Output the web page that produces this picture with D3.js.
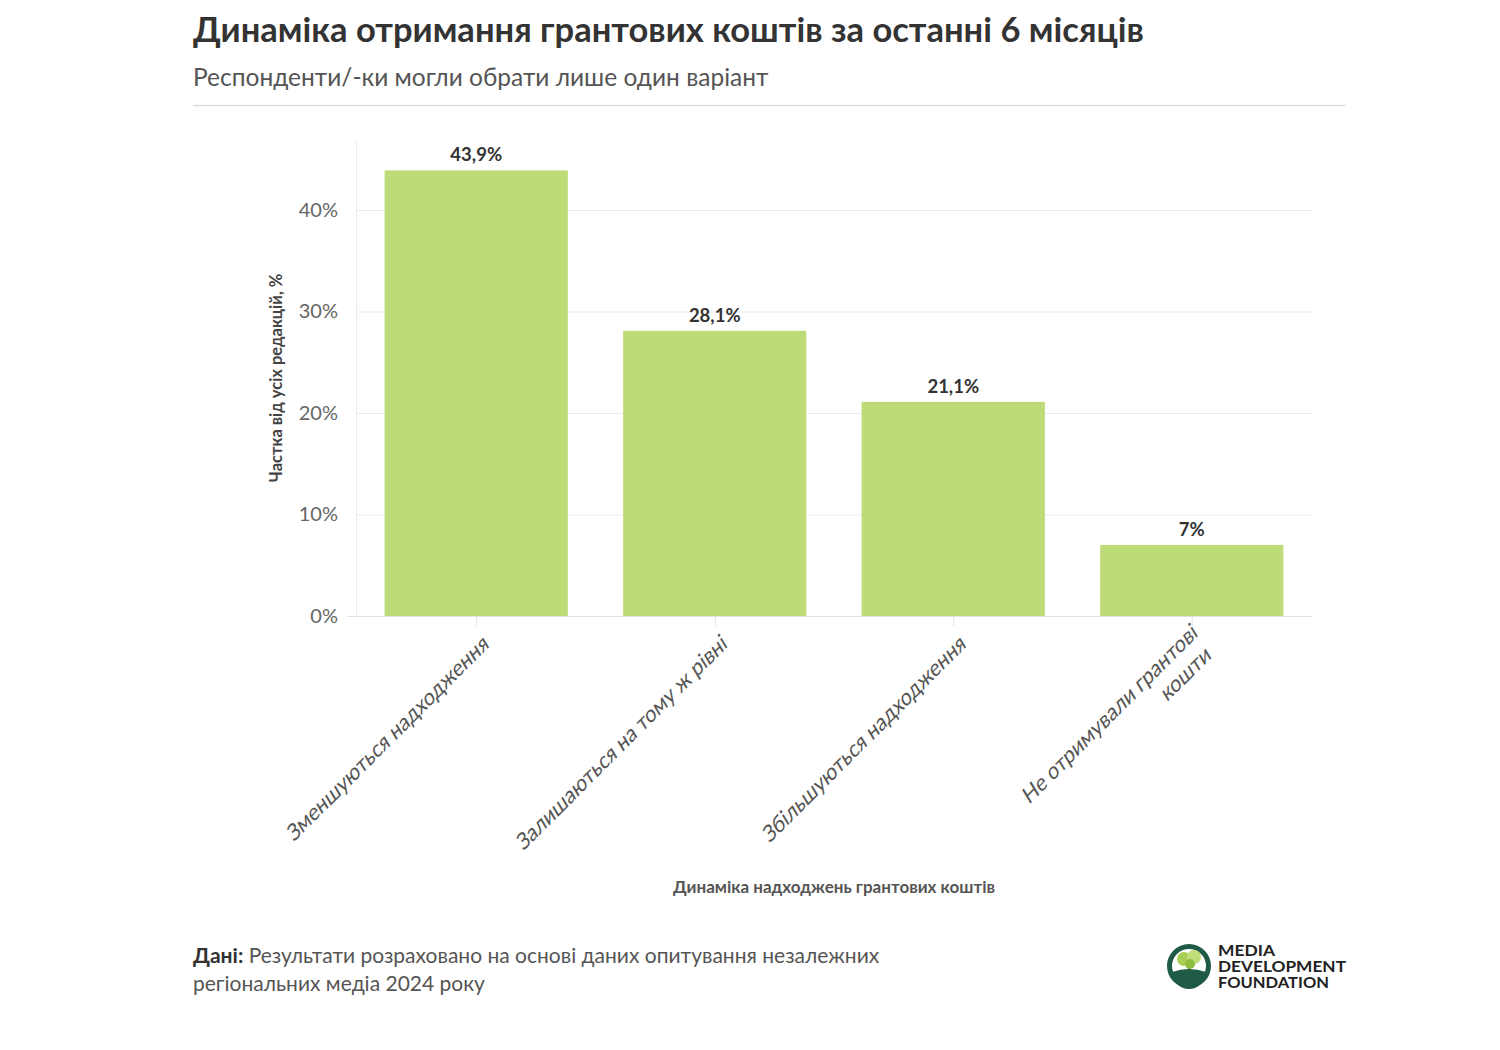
<!DOCTYPE html>
<html>
<head>
<meta charset="utf-8">
<script src="https://cdn.jsdelivr.net/npm/d3@7.9.0/dist/d3.min.js"></script>
<style>
  body { margin: 0; background: #fff; font-family: Lato, 'Noto Sans', sans-serif; }
  svg text { font-family: Lato, 'Noto Sans', sans-serif; }
</style>
</head>
<body>
<svg id="chart" width="1500" height="1050"></svg>
<script>
// chart data
const categories = [
  ['Зменшуються надходження'],
  ['Залишаються на тому ж рівні'],
  ['Збільшуються надходження'],
  ['Не отримували грантові', 'кошти'],
];
const values = [43.9, 28.1, 21.1, 7];
const valueLabels = ['43,9%', '28,1%', '21,1%', '7%'];
const yTicks = [0, 10, 20, 30, 40];

const title = 'Динаміка отримання грантових коштів за останні 6 місяців';
const subtitle = 'Респонденти/-ки могли обрати лише один варіант';
const yTitle = 'Частка від усіх редакцій, %';
const xTitle = 'Динаміка надходжень грантових коштів';

const svg = d3.select('#chart');

// header
svg.append('text')
  .attr('x', 193).attr('y', 42)
  .attr('font-size', 34.5).attr('font-weight', 700).attr('fill', '#333')
  .text(title);
svg.append('text')
  .attr('x', 193).attr('y', 86)
  .attr('font-size', 24.5).attr('fill', '#555')
  .text(subtitle);
svg.append('line')
  .attr('x1', 193).attr('x2', 1346).attr('y1', 105.5).attr('y2', 105.5)
  .attr('stroke', '#ddd').attr('stroke-width', 1.5);

// scales
const plot = { left: 356, right: 1312, top: 140, bottom: 616 };
const x = d3.scaleBand()
  .domain(d3.range(categories.length))
  .range([plot.left, plot.right])
  .paddingInner(0.232)
  .paddingOuter(0.12);
const y = d3.scaleLinear().domain([0, 40]).range([plot.bottom, 210]);

// gridlines
svg.append('g')
  .selectAll('line')
  .data(yTicks)
  .join('line')
  .attr('x1', (d) => (d === 0 ? plot.left - 9 : plot.left))
  .attr('x2', plot.right)
  .attr('y1', (d) => y(d) + 0.5)
  .attr('y2', (d) => y(d) + 0.5)
  .attr('stroke', (d) => (d === 0 ? '#e2e2e2' : '#ebebeb'));

svg.append('line')
  .attr('x1', plot.left + 0.5).attr('x2', plot.left + 0.5)
  .attr('y1', plot.top).attr('y2', plot.bottom)
  .attr('stroke', '#ebebeb');

// y axis
const yAxis = svg.append('g')
  .attr('transform', `translate(${plot.left - 15},0)`)
  .call(d3.axisLeft(y).tickValues(yTicks).tickSize(0).tickFormat((d) => d + '%'));
yAxis.select('.domain').remove();
yAxis.selectAll('text')
  .attr('font-size', 20).attr('fill', '#666')
  .attr('font-family', 'Lato, sans-serif');

// x ticks
svg.append('g')
  .selectAll('line')
  .data(d3.range(categories.length))
  .join('line')
  .attr('x1', (d) => x(d) + x.bandwidth() / 2 + 0.5)
  .attr('x2', (d) => x(d) + x.bandwidth() / 2 + 0.5)
  .attr('y1', plot.bottom)
  .attr('y2', plot.bottom + 10)
  .attr('stroke', '#e2e2e2');

// bars
svg.append('g')
  .selectAll('rect')
  .data(values)
  .join('rect')
  .attr('x', (d, i) => x(i))
  .attr('y', (d) => y(d))
  .attr('width', x.bandwidth())
  .attr('height', (d) => y(0) - y(d))
  .attr('fill', '#bddb76');

// value labels
svg.append('g')
  .selectAll('text')
  .data(values)
  .join('text')
  .attr('x', (d, i) => x(i) + x.bandwidth() / 2)
  .attr('y', (d) => y(d) - 9)
  .attr('text-anchor', 'middle')
  .attr('font-size', 18.5).attr('font-weight', 700).attr('fill', '#333')
  .text((d, i) => valueLabels[i]);

// category labels, rotated (oblique)
const catG = svg.append('g')
  .selectAll('text')
  .data(categories)
  .join('text')
  .attr('transform', (d, i) =>
    `translate(${x(i) + x.bandwidth() / 2 + 10},${plot.bottom + 24}) rotate(-45) skewX(-14)`)
  .attr('text-anchor', 'end')
  .attr('font-size', 21.5).attr('fill', '#555');
catG.each(function (lines) {
  const t = d3.select(this);
  const n = lines.length;
  lines.forEach((ln, k) => {
    t.append('tspan')
      .attr('x', 0)
      .attr('y', (k - (n - 1) / 2) * 25 + 7)
      .text(ln);
  });
});

// axis titles
svg.append('text')
  .attr('transform', `translate(282,378) rotate(-90)`)
  .attr('text-anchor', 'middle')
  .attr('font-size', 16.5).attr('font-weight', 700).attr('fill', '#444')
  .text(yTitle);
svg.append('text')
  .attr('x', 834).attr('y', 893)
  .attr('text-anchor', 'middle')
  .attr('font-size', 17).attr('font-weight', 700).attr('fill', '#555')
  .text(xTitle);

// footer
const foot = svg.append('text')
  .attr('x', 193).attr('y', 963)
  .attr('font-size', 21).attr('fill', '#555');
foot.append('tspan').attr('font-weight', 700).attr('fill', '#333').text('Дані:');
foot.append('tspan').text(' Результати розраховано на основі даних опитування незалежних');
svg.append('text')
  .attr('x', 193).attr('y', 991)
  .attr('font-size', 21).attr('fill', '#555')
  .text('регіональних медіа 2024 року');

// logo
const logo = svg.append('g').attr('transform', 'translate(1189,966)');
logo.append('circle').attr('r', 22).attr('fill', '#1e5a44');
logo.append('circle').attr('r', 17).attr('fill', '#fff');
logo.append('path')
  .attr('d', 'M-17,6 Q0,0 17,6 A17,17 0 0 1 -17,6 Z')
  .attr('fill', '#1e5a44');
logo.append('line').attr('x1', 0).attr('x2', 0).attr('y1', 6).attr('y2', -4)
  .attr('stroke', '#1e5a44').attr('stroke-width', 2);
logo.append('circle').attr('cx', -5).attr('cy', -7).attr('r', 7).attr('fill', '#a9cf54');
logo.append('circle').attr('cx', 5).attr('cy', -9).attr('r', 7).attr('fill', '#c1dd7a');
logo.append('circle').attr('cx', 1).attr('cy', -2).attr('r', 5).attr('fill', '#8fbf3f');
['MEDIA', 'DEVELOPMENT', 'FOUNDATION'].forEach((w, i) => {
  svg.append('text')
    .attr('x', 1218).attr('y', 956 + i * 16)
    .attr('font-size', 16).attr('font-weight', 700).attr('fill', '#222')
    .attr('font-family', "'Liberation Sans', Arial, sans-serif")
    .attr('textLength', w === 'MEDIA' ? 57 : w === 'DEVELOPMENT' ? 128 : 111)
    .attr('lengthAdjust', 'spacingAndGlyphs')
    .text(w);
});
</script>
</body>
</html>
